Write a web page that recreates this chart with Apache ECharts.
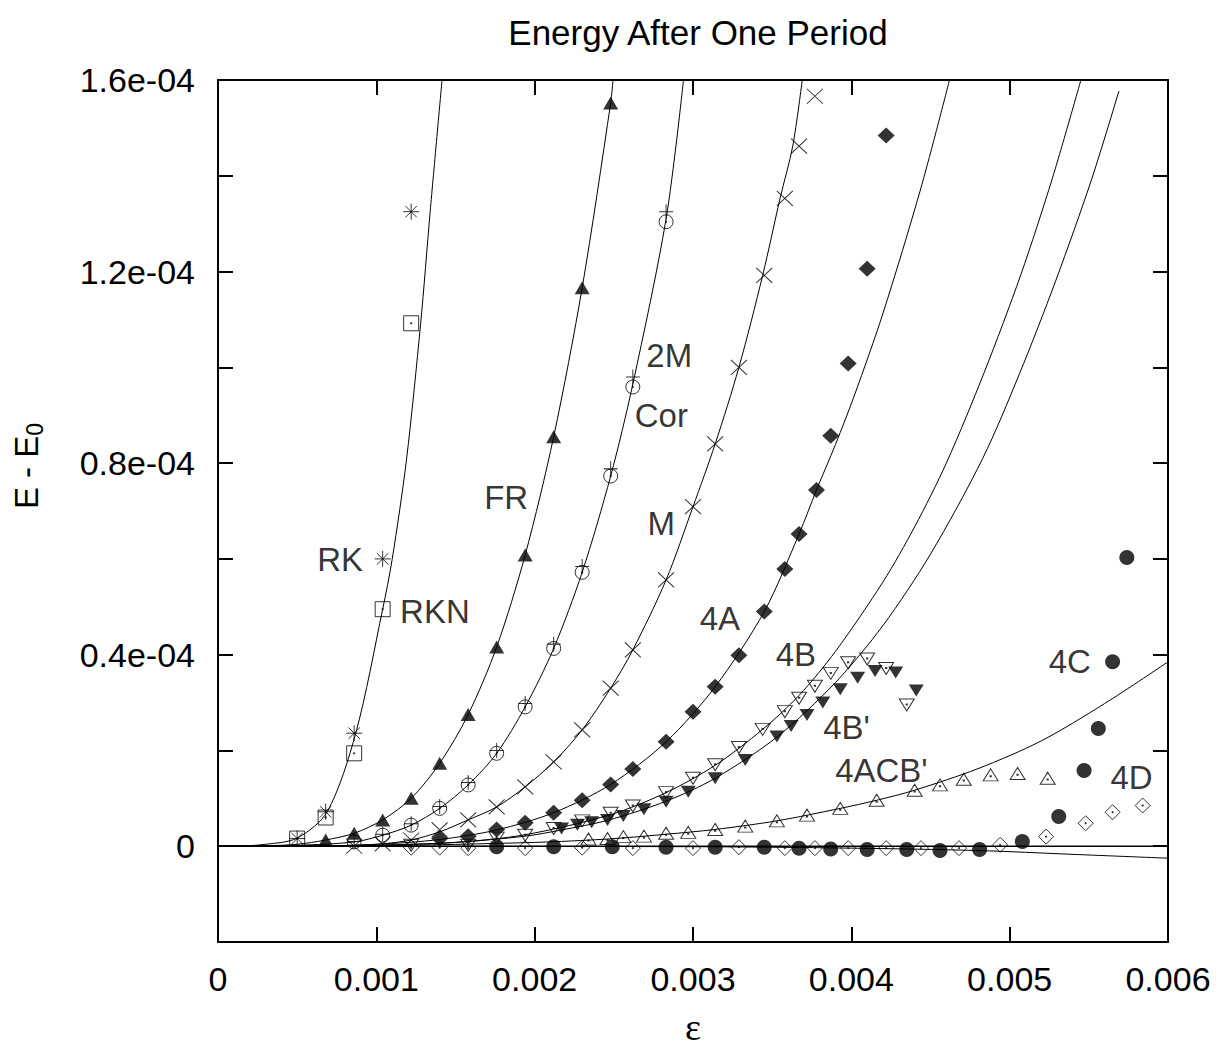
<!DOCTYPE html>
<html>
<head>
<meta charset="utf-8">
<script src="https://cdn.jsdelivr.net/npm/echarts@6/dist/echarts.min.js"></script>
<style>
html,body{margin:0;padding:0;background:#fff;}
#chart{width:1216px;height:1055px;}
</style>
</head>
<body>
<div id="chart"></div>
<script>
// ---------- tick labels ----------
const xTickValues = [0, 0.001, 0.002, 0.003, 0.004, 0.005, 0.006];
const xTickLabels = ['0', '0.001', '0.002', '0.003', '0.004', '0.005', '0.006'];
// y values are in units of 1e-5
const yTickValues = [0, 4, 8, 12, 16];
const yTickLabels = ['0', '0.4e-04', '0.8e-04', '1.2e-04', '1.6e-04'];

// ---------- marker data (y in units of 1e-5) ----------
const rkX  = [0.0005, 0.00068, 0.00086, 0.00104, 0.00122];
const rkY  = [0.16, 0.72, 2.36, 6.0, 13.25];
const rknX = [0.0005, 0.00068, 0.00086, 0.00104, 0.00122];
const rknY = [0.16, 0.60, 1.94, 4.95, 10.92];

const frX = [0.00068, 0.00086, 0.00104, 0.00122, 0.0014, 0.00158, 0.00176, 0.00194, 0.00212, 0.0023, 0.00248];
const frY = [0.13, 0.27, 0.55, 1.0, 1.73, 2.75, 4.16, 6.08, 8.55, 11.66, 15.52];

const corX = [0.00086, 0.00104, 0.00122, 0.0014, 0.00158, 0.00176, 0.00194, 0.00212, 0.0023, 0.00248, 0.00262, 0.00283];
const corY = [0.09, 0.23, 0.44, 0.79, 1.28, 1.94, 2.91, 4.13, 5.72, 7.73, 9.59, 13.04];
const m2X  = [0.00086, 0.00104, 0.00122, 0.0014, 0.00158, 0.00176, 0.00194, 0.00212, 0.0023, 0.00248, 0.00262, 0.00283];
const m2Y  = [0.10, 0.25, 0.47, 0.83, 1.33, 2.0, 2.98, 4.22, 5.84, 7.88, 9.80, 13.25];

const mX = [0.00086, 0.00104, 0.00122, 0.0014, 0.00158, 0.00176, 0.00194, 0.00212, 0.0023, 0.00248, 0.00262, 0.00283, 0.003, 0.00314, 0.00329, 0.00345, 0.00358, 0.00367, 0.00377];
const mY = [0.0, 0.05, 0.13, 0.34, 0.55, 0.82, 1.24, 1.76, 2.43, 3.30, 4.10, 5.56, 7.09, 8.40, 10.0, 11.92, 13.53, 14.62, 15.66];

const a4X = [0.0014, 0.00158, 0.00176, 0.00194, 0.00212, 0.0023, 0.00248, 0.00262, 0.00283, 0.003, 0.00314, 0.00329, 0.00345, 0.00358, 0.00367, 0.00378, 0.00387, 0.00398, 0.0041, 0.00422];
const a4Y = [0.16, 0.21, 0.35, 0.49, 0.70, 0.96, 1.29, 1.61, 2.18, 2.81, 3.33, 3.99, 4.90, 5.79, 6.52, 7.44, 8.57, 10.08, 12.06, 14.84];

const b4X = [0.00122, 0.00158, 0.00176, 0.00194, 0.00212, 0.0023, 0.00248, 0.00262, 0.00283, 0.003, 0.00314, 0.00329, 0.00344, 0.00358, 0.00367, 0.00377, 0.00387, 0.00398, 0.0041, 0.00422, 0.00435];
const b4Y = [0.02, 0.02, 0.17, 0.23, 0.37, 0.53, 0.69, 0.84, 1.12, 1.42, 1.70, 2.06, 2.44, 2.81, 3.09, 3.34, 3.61, 3.83, 3.91, 3.71, 2.95];

const bpX = [0.00217, 0.00227, 0.00236, 0.00246, 0.00256, 0.00269, 0.00283, 0.00297, 0.00314, 0.00333, 0.00353, 0.00362, 0.00372, 0.00382, 0.00393, 0.00404, 0.00415, 0.00428, 0.00441];
const bpY = [0.37, 0.45, 0.50, 0.55, 0.63, 0.77, 0.93, 1.14, 1.42, 1.80, 2.29, 2.51, 2.74, 3.00, 3.28, 3.52, 3.66, 3.63, 3.25];

const acbX = [0.00234, 0.00246, 0.00256, 0.00269, 0.00283, 0.00297, 0.00314, 0.00333, 0.00353, 0.00372, 0.00393, 0.00416, 0.0044, 0.00456, 0.00471, 0.00488, 0.00505, 0.00524];
const acbY = [0.15, 0.16, 0.20, 0.21, 0.27, 0.29, 0.35, 0.42, 0.53, 0.65, 0.79, 0.96, 1.17, 1.28, 1.40, 1.49, 1.52, 1.42];

const c4X = [0.00176, 0.00212, 0.00249, 0.00283, 0.00314, 0.00345, 0.00367, 0.00387, 0.0041, 0.00435, 0.00456, 0.00481, 0.00508, 0.00531, 0.00547, 0.00556, 0.00565, 0.00574];
const c4Y = [-0.01, -0.01, -0.01, -0.02, -0.02, -0.02, -0.04, -0.06, -0.07, -0.07, -0.09, -0.07, 0.10, 0.62, 1.58, 2.46, 3.85, 6.03];

const d4X = [0.00122, 0.0014, 0.00158, 0.00194, 0.0023, 0.00262, 0.003, 0.00329, 0.00358, 0.00377, 0.00398, 0.00422, 0.00444, 0.00468, 0.00494, 0.00523, 0.00548, 0.00565, 0.00584];
const d4Y = [-0.03, -0.03, -0.04, -0.04, -0.03, -0.04, -0.04, -0.02, -0.04, -0.04, -0.04, -0.04, -0.04, -0.04, 0.03, 0.20, 0.48, 0.71, 0.85];

// ---------- fitted curves ----------
const curveRkX = [0, 0.0001, 0.0003, 0.0005, 0.00069, 0.00087, 0.00104, 0.0011, 0.00119, 0.00128, 0.00134, 0.001415];
const curveRkY = [0, 0, 0.04, 0.17, 0.72, 2.36, 4.95, 5.99, 8.06, 10.92, 13.25, 16.0];
const curveFrX = [0, 0.0003, 0.0005, 0.00068, 0.00086, 0.00104, 0.00122, 0.0014, 0.00158, 0.00176, 0.00194, 0.00212, 0.0023, 0.00248, 0.002495];
const curveFrY = [0, 0.01, 0.04, 0.13, 0.27, 0.55, 1.0, 1.73, 2.75, 4.16, 6.08, 8.55, 11.66, 15.52, 16.0];
const curveCorX = [0, 0.0005, 0.00086, 0.00104, 0.00122, 0.0014, 0.00158, 0.00176, 0.00194, 0.00212, 0.0023, 0.00248, 0.00262, 0.00283, 0.00294];
const curveCorY = [0, 0.02, 0.09, 0.23, 0.44, 0.79, 1.28, 1.94, 2.91, 4.13, 5.72, 7.73, 9.65, 13.1, 16.0];
const curveMX = [0, 0.0005, 0.00086, 0.00104, 0.00122, 0.0014, 0.00158, 0.00176, 0.00194, 0.00212, 0.0023, 0.00248, 0.00262, 0.00283, 0.003, 0.00314, 0.00329, 0.00344, 0.00355, 0.00363, 0.00369];
const curveMY = [0, 0, 0.02, 0.05, 0.13, 0.3, 0.55, 0.82, 1.24, 1.76, 2.43, 3.30, 4.10, 5.56, 7.09, 8.40, 10.0, 11.92, 13.53, 14.62, 16.0];
const curveA4X = [0, 0.0005, 0.001, 0.0014, 0.00176, 0.00212, 0.00248, 0.00283, 0.00314, 0.00345, 0.00367, 0.00378, 0.0039, 0.00402, 0.0042, 0.00444, 0.00462];
const curveA4Y = [0, 0, 0.04, 0.14, 0.34, 0.70, 1.29, 2.18, 3.33, 4.90, 6.52, 7.44, 8.39, 9.42, 11.13, 13.75, 16.0];
const curveB4X = [0, 0.0005, 0.001, 0.0015, 0.00194, 0.00248, 0.00283, 0.00314, 0.00344, 0.00367, 0.0039, 0.0042, 0.0044, 0.0046, 0.00484, 0.00507, 0.00527, 0.00545];
const curveB4Y = [0, 0, 0.02, 0.08, 0.24, 0.66, 1.12, 1.69, 2.44, 3.15, 4.07, 5.52, 6.67, 8.0, 9.9, 11.93, 13.95, 16.0];
const curveBpX = [0, 0.0005, 0.001, 0.0015, 0.00194, 0.00217, 0.00246, 0.00283, 0.00314, 0.00353, 0.0039, 0.0042, 0.0045, 0.00483, 0.00506, 0.00529, 0.00552, 0.00569];
const curveBpY = [0, 0, 0.02, 0.08, 0.21, 0.34, 0.54, 0.94, 1.42, 2.28, 3.42, 4.61, 6.10, 8.1, 9.85, 11.8, 13.95, 15.77];
const curveAcbX = [0, 0.001, 0.002, 0.00246, 0.00283, 0.00314, 0.00353, 0.00393, 0.00416, 0.0044, 0.0048, 0.0052, 0.0056, 0.006];
const curveAcbY = [0, 0.01, 0.08, 0.15, 0.25, 0.35, 0.53, 0.79, 0.96, 1.17, 1.62, 2.2, 2.98, 3.85];
const curveZeroX = [0, 0.006];
const curveZeroY = [0, 0];
const curveNegX = [0, 0.003, 0.004, 0.0048, 0.0054, 0.006];
const curveNegY = [0, -0.01, -0.04, -0.09, -0.17, -0.25];

// ---------- in-plot labels ----------
const labelTexts = ['RK', 'RKN', 'FR', '2M', 'Cor', 'M', '4A', '4B', "4B'", "4ACB'", '4C', '4D'];
const labelX = [0.000771, 0.00137, 0.00182, 0.00285, 0.0028, 0.0028, 0.00317, 0.00365, 0.00397, 0.00419, 0.00538, 0.00577];
const labelY = [5.99, 4.91, 7.29, 10.25, 9.0, 6.73, 4.75, 4.0, 2.47, 1.58, 3.85, 1.43];

// ---------- build ----------
const pts = (xs, ys) => xs.map((x, i) => [x, ys[i]]);
const FONT = '"Liberation Sans", Arial, Helvetica, sans-serif';
const DOT = 'M7.4,7.4L8.6,7.4L8.6,8.6L7.4,8.6Z';
const SYM = {
  asterisk: 'path://M0,8L16,8M8,0L8,16M2.3,2.3L13.7,13.7M13.7,2.3L2.3,13.7',
  square: 'path://M0,0L16,0L16,16L0,16Z' + DOT,
  circle: 'path://M16,8A8,8,0,1,1,0,8A8,8,0,1,1,16,8Z' + DOT,
  plus: 'path://M0,8L16,8M8,0L8,16',
  cross: 'path://M0,0L16,16M16,0L0,16',
  tdown: 'path://M0,0L16,0L8,13Z M7.4,5.4L8.6,5.4L8.6,6.6L7.4,6.6Z',
  tdownFill: 'path://M0,0L16,0L8,13Z',
  tup: 'path://M8,0L16,13L0,13Z M7.4,7.4L8.6,7.4L8.6,8.6L7.4,8.6Z',
  dia: 'path://M8,0L16,8L8,16L0,8Z' + DOT
};
const openStyle = { color: 'rgba(0,0,0,0)', borderColor: '#000', borderWidth: 1 };
const fillStyle = { color: '#000', borderWidth: 0 };

function curve(xs, ys, w) {
  return {
    type: 'line', data: pts(xs, ys), symbol: 'none', smooth: 0.3,
    lineStyle: { color: '#000', width: w || 1 }, silent: true, z: 2, clip: true
  };
}
function marks(xs, ys, symbol, size, style) {
  return {
    type: 'scatter', data: pts(xs, ys), symbol: symbol, symbolSize: size,
    itemStyle: style, silent: true, z: 3
  };
}

const labelSeries = {
  type: 'scatter', silent: true, z: 4, symbol: 'circle', symbolSize: 1,
  itemStyle: { color: 'rgba(0,0,0,0)' },
  data: labelTexts.map((t, i) => ({ name: t, value: [labelX[i], labelY[i]] })),
  label: { show: true, position: 'inside', formatter: p => p.name, color: '#000', fontSize: 33, fontFamily: FONT }
};

const tickFmt = (vals, labs) => v => {
  const i = vals.findIndex(t => Math.abs(t - v) < 1e-9);
  return i >= 0 ? labs[i] : '';
};

const axisLine = { show: true, onZero: false, lineStyle: { color: '#000', width: 2 } };
const axisTick = { show: true, inside: true, length: 15, lineStyle: { color: '#000', width: 2 } };

const option = {
  animation: false,
  backgroundColor: '#fff',
  title: {
    text: 'Energy After One Period', left: 693, textAlign: 'center', top: 10,
    textStyle: { fontSize: 35, fontWeight: 'normal', color: '#000', fontFamily: FONT }
  },
  grid: { left: 218, right: 48, top: 80, bottom: 113, containLabel: false },
  xAxis: [{
    type: 'value', min: 0, max: 0.006, interval: 0.001, position: 'bottom',
    axisLine: axisLine, axisTick: axisTick, splitLine: { show: false },
    axisLabel: { formatter: tickFmt(xTickValues, xTickLabels), fontSize: 34, color: '#000', fontFamily: FONT, margin: 20 },
    name: 'ε', nameLocation: 'middle', nameGap: 66,
    nameTextStyle: { fontSize: 38, color: '#000', fontFamily: '"Liberation Serif", "DejaVu Serif", serif' }
  }, {
    type: 'value', min: 0, max: 0.006, interval: 0.001, position: 'top',
    axisLine: axisLine, axisTick: axisTick, splitLine: { show: false }, axisLabel: { show: false }
  }],
  yAxis: [{
    type: 'value', min: -2, max: 16, interval: 2, position: 'left',
    axisLine: axisLine, axisTick: axisTick, splitLine: { show: false },
    axisLabel: { formatter: tickFmt(yTickValues, yTickLabels), fontSize: 34, color: '#000', fontFamily: FONT, margin: 23 },
    name: '{a|E - E}{b|0}', nameLocation: 'middle', nameGap: 172, nameRotate: 90,
    nameTextStyle: {
      color: '#000', fontFamily: FONT, padding: [0, 0, 0, 90],
      rich: { a: { fontSize: 33, fontFamily: FONT, color: '#000' }, b: { fontSize: 23, fontFamily: FONT, color: '#000', padding: [16, 0, 0, 0] } }
    }
  }, {
    type: 'value', min: -2, max: 16, interval: 2, position: 'right',
    axisLine: axisLine, axisTick: axisTick, splitLine: { show: false }, axisLabel: { show: false }
  }],
  series: [
    curve(curveZeroX, curveZeroY, 1.5),
    curve(curveNegX, curveNegY),
    curve(curveRkX, curveRkY),
    curve(curveFrX, curveFrY),
    curve(curveCorX, curveCorY),
    curve(curveMX, curveMY),
    curve(curveA4X, curveA4Y),
    curve(curveB4X, curveB4Y),
    curve(curveBpX, curveBpY),
    curve(curveAcbX, curveAcbY),
    marks(rkX, rkY, SYM.asterisk, [16, 16], openStyle),
    marks(rknX, rknY, SYM.square, [15, 15], openStyle),
    marks(frX, frY, 'triangle', [15, 13], fillStyle),
    marks(corX, corY, SYM.circle, [14, 14], openStyle),
    marks(m2X, m2Y, SYM.plus, [14, 15], openStyle),
    marks(mX, mY, SYM.cross, [16, 15], openStyle),
    marks(a4X, a4Y, 'diamond', [17, 16], fillStyle),
    marks(b4X, b4Y, SYM.tdown, [15, 12], openStyle),
    marks(bpX, bpY, SYM.tdownFill, [15, 12], fillStyle),
    marks(acbX, acbY, SYM.tup, [15, 12], openStyle),
    marks(c4X, c4Y, 'circle', [15, 15], fillStyle),
    marks(d4X, d4Y, SYM.dia, [15, 15], openStyle),
    labelSeries
  ]
};

const chart = echarts.init(document.getElementById('chart'), null, { renderer: 'svg' });
chart.setOption(option);
</script>
</body>
</html>
